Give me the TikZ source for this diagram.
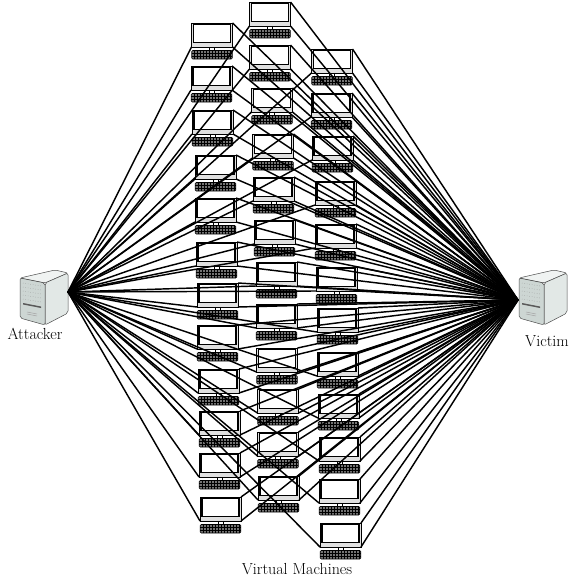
\documentclass[tikz,border=0pt]{standalone}
\usepackage{tikz}
\usetikzlibrary{positioning}
\definecolor{serverfront}{RGB}{205,214,211}
\definecolor{serverside}{RGB}{226,232,230}
\definecolor{servertop}{RGB}{240,243,242}
\tikzstyle{monitor} = [rectangle, draw=black, fill=black!12, line width=0.9pt, minimum width=41pt, minimum height=24pt, inner sep=0pt, outer sep=0pt]
\tikzstyle{glass} = [rectangle, draw=black, fill=white, line width=1.4pt, minimum width=37pt, minimum height=18.5pt, inner sep=0pt, outer sep=0pt]
\tikzstyle{neck} = [rectangle, draw=black, fill=white, line width=0.6pt, minimum width=5pt, minimum height=3pt, inner sep=0pt, outer sep=0pt]
\tikzstyle{keyboard} = [rectangle, rounded corners=1pt, draw=black, fill=black!55, line width=0.6pt, minimum width=40.5pt, minimum height=8.5pt, inner sep=0pt, outer sep=0pt]
\tikzstyle{keygrid} = [black, line width=0.55pt]
\tikzstyle{link} = [black, line width=1.45pt]
\tikzstyle{caption} = [inner sep=0pt, font=\fontsize{16}{18}\selectfont]
\tikzstyle{serverline} = [draw=black!70, line width=0.5pt, rounded corners=2pt, line join=round]

% screen, neck and keyboard of one machine
\newcommand{\vm}[2]{
	\node [monitor, #2] (#1) {};
	\node [glass] (#1g) at ([yshift=1.6pt]#1.center) {};
	\node [neck, below=0pt of #1] (#1n) {};
	\node [keyboard, below=0.5pt of #1n] (#1k) {};
	\foreach \kx in {3,6,...,39} \draw[keygrid] ([xshift=\kx pt]#1k.south west) -- ([xshift=\kx pt]#1k.north west);
	\draw[keygrid] ([yshift=2.8pt]#1k.south west) -- ([yshift=2.8pt]#1k.south east);
	\draw[keygrid] ([yshift=5.6pt]#1k.south west) -- ([yshift=5.6pt]#1k.south east);
}
% server box, #1 and #2 give the upper left corner
\newcommand{\server}[2]{
	\begin{scope}[shift={(#1,#2)}]
		\filldraw[serverline, fill=servertop] (0,8) -- (35,0) -- (48,3) -- (25,13) -- cycle;
		\filldraw[serverline, fill=serverside] (25,13) -- (48,3) -- (48,43) -- (25,55) -- cycle;
		\filldraw[serverline, fill=serverfront] (0,8) -- (25,13) -- (25,55) -- (0,48) -- cycle;
		\foreach \sy in {13,17,21,25,29} \draw[black!40, dotted, line width=0.5pt] (3,\sy) -- (21,\sy+3);
		\fill[black!65] (3,33) -- (21,36.5) -- (21,38) -- (3,34.5) -- cycle;
		\draw[black!35, line width=0.5pt] (7,42) -- (17,44);
		\draw[black!35, line width=0.5pt] (7,44) -- (17,46);
	\end{scope}
}

\begin{document}
\begin{tikzpicture}[x=1pt, y=-1pt, node distance=43pt]
	\useasboundingbox (0,0) rectangle (581,581);

	\server{20}{270}
	\server{519}{270}
	\coordinate (attacker) at (68,292);
	\coordinate (victim) at (518,300);

	\vm{a1}{at={(212,35)}}
	\vm{a2}{below of=a1, xshift=-0.5pt}
	\vm{a3}{below of=a2, xshift=1pt, yshift=-1pt}
	\vm{a4}{below of=a3, xshift=3pt, yshift=-2pt}
	\vm{a5}{below of=a4}
	\vm{a6}{below of=a5, xshift=1pt, yshift=-1pt}
	\vm{a7}{below of=a6, xshift=1pt, yshift=2pt}
	\vm{a8}{below of=a7, yshift=1pt}
	\vm{a9}{below of=a8, xshift=1pt, yshift=-1pt}
	\vm{a10}{below of=a9, xshift=1pt, yshift=1pt}
	\vm{a11}{below of=a10, yshift=1pt}
	\vm{a12}{below of=a11, xshift=1pt, yshift=-1pt}

	\vm{b1}{at={(270,14)}}
	\vm{b2}{below of=b1}
	\vm{b3}{below of=b2, xshift=2pt}
	\vm{b4}{below of=b3, xshift=1pt, yshift=-3pt}
	\vm{b5}{below of=b4, xshift=0.5pt}
	\vm{b6}{below of=b5, xshift=1pt}
	\vm{b7}{below of=b6, xshift=2pt, yshift=1pt}
	\vm{b8}{below of=b7, yshift=1pt}
	\vm{b9}{below of=b8, xshift=0.5pt, yshift=-1pt}
	\vm{b10}{below of=b9, xshift=1pt, yshift=2pt}
	\vm{b11}{below of=b10}
	\vm{b12}{below of=b11, xshift=0.5pt, yshift=-1pt}

	\vm{c1}{at={(332,61)}}
	\vm{c2}{below of=c1, xshift=-0.5pt, yshift=-1pt}
	\vm{c3}{below of=c2, xshift=1pt}
	\vm{c4}{below of=c3, xshift=3pt, yshift=-2pt}
	\vm{c5}{below of=c4}
	\vm{c6}{below of=c5, xshift=1pt}
	\vm{c7}{below of=c6, xshift=1pt, yshift=2pt}
	\vm{c8}{below of=c7, yshift=-1pt}
	\vm{c9}{below of=c8, xshift=1pt, yshift=1pt}
	\vm{c10}{below of=c9, xshift=1pt}
	\vm{c11}{below of=c10, yshift=1pt}
	\vm{c12}{below of=c11, xshift=1pt, yshift=-1pt}

	\foreach \col in {a,b,c}
		\foreach \row in {1,...,12} {
			\draw[link] (attacker) -- (\col\row.south west);
			\draw[link] (\col\row.north east) -- (victim);
			\draw[link] (\col\row.south east) -- (victim);
		}

	\node[caption] (attackername) at (35,334) {Attacker};
	\node[caption] (victimname) at (547,341) {Victim};
	\node[caption] (vmname) at (297,569) {Virtual Machines};
\end{tikzpicture}
\end{document}
